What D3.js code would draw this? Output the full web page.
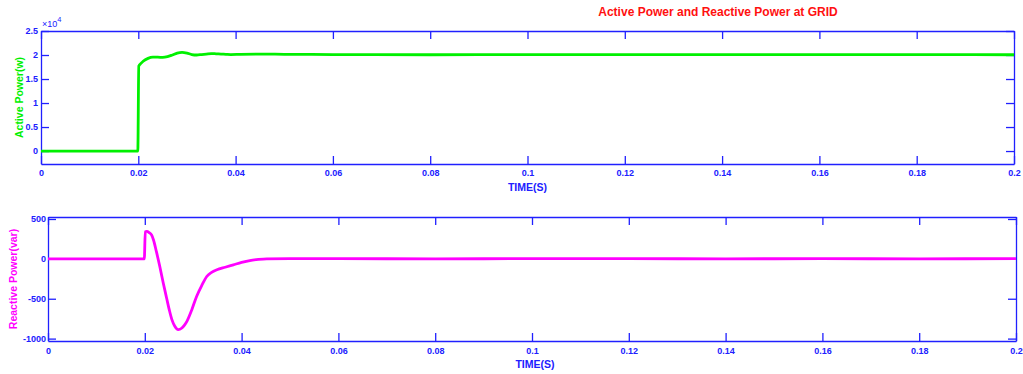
<!DOCTYPE html>
<html>
<head>
<meta charset="utf-8">
<script src="https://cdn.jsdelivr.net/npm/d3@7"></script>
<style>
body { margin: 0; background: #fff; }
svg { display: block; font-family: "Liberation Sans", Arial, sans-serif; }
.ax text { fill: #2020ff; font-size: 9px; font-weight: bold; }
.ax path, .ax line { stroke: #2020ff; stroke-width: 1.3; }
</style>
</head>
<body>
<svg id="chart" width="1023" height="374"></svg>
<script>
// time axis ticks (s)
var timeTicks = [0, 0.02, 0.04, 0.06, 0.08, 0.1, 0.12, 0.14, 0.16, 0.18, 0.2];

// Active power at grid (x10^4 W)
var pTime = [0, 0.0199, 0.0201, 0.0206, 0.021, 0.022, 0.023, 0.024, 0.025, 0.026, 0.027, 0.028, 0.029,
    0.030, 0.031, 0.032, 0.033, 0.034, 0.035, 0.036, 0.037, 0.038, 0.039, 0.041, 0.045, 0.05, 0.06,
    0.08, 0.1, 0.12, 0.14, 0.16, 0.18, 0.2];
var pValue = [0, 0, 1.77, 1.83, 1.87, 1.93, 1.955, 1.955, 1.95, 1.965, 2.0, 2.04, 2.055,
    2.04, 2.01, 2.0, 2.01, 2.02, 2.03, 2.025, 2.02, 2.015, 2.01, 2.015, 2.02, 2.015, 2.01,
    2.005, 2.01, 2.01, 2.01, 2.01, 2.01, 2.005];
var pTicks = [0, 0.5, 1, 1.5, 2, 2.5];

// Reactive power at grid (var)
var qTime = [0, 0.0199, 0.0201, 0.0204, 0.0209, 0.0214, 0.0218, 0.0224, 0.0231, 0.0238, 0.0245, 0.0251,
    0.0256, 0.0262, 0.0269, 0.0276, 0.0282, 0.0287, 0.0297, 0.0307, 0.0318, 0.0328, 0.0338, 0.0349,
    0.0366, 0.0383, 0.04, 0.0417, 0.0435, 0.0452, 0.05, 0.06, 0.08, 0.1, 0.12, 0.14, 0.16, 0.18, 0.2];
var qValue = [0, 0, 340, 345, 330, 300, 237, 90, -96, -300, -490, -650,
    -762, -845, -887, -870, -830, -783, -640, -471, -330, -221, -170, -137,
    -105, -75, -45, -21, -7, 0, 2, 2, 1, 2, 2, 1, 2, 1, 2];
var qTicks = [-1000, -500, 0, 500];

var svg = d3.select('#chart');
var lineFmt = function(d) { return d === 0 ? '0' : String(d); };

function panel(cfg) {
    var x = d3.scaleLinear().domain([0, 0.2]).range([cfg.left, cfg.right]);
    var y = d3.scaleLinear().domain(cfg.yDomain).range([cfg.bottom, cfg.top]);
    var g = svg.append('g');

    g.append('g').attr('class', 'ax').attr('transform', 'translate(0,' + cfg.bottom + ')')
        .call(d3.axisBottom(x).tickValues(timeTicks).tickSizeInner(-8).tickSizeOuter(0)
            .tickPadding(cfg.xPad).tickFormat(lineFmt));
    g.append('g').attr('class', 'ax').attr('transform', 'translate(0,' + cfg.top + ')')
        .call(d3.axisTop(x).tickValues(timeTicks).tickSizeInner(-8).tickSizeOuter(0).tickFormat(''));
    g.append('g').attr('class', 'ax').attr('transform', 'translate(' + cfg.left + ',0)')
        .call(d3.axisLeft(y).tickValues(cfg.yTicks).tickSizeInner(-8).tickSizeOuter(0)
            .tickPadding(cfg.yPad).tickFormat(lineFmt));
    g.append('g').attr('class', 'ax').attr('transform', 'translate(' + cfg.right + ',0)')
        .call(d3.axisRight(y).tickValues(cfg.yTicks).tickSizeInner(-8).tickSizeOuter(0).tickFormat(''));

    var pts = cfg.t.map(function(t, i) { return [t, cfg.v[i]]; });
    var line = d3.line()
        .x(function(d) { return x(d[0]); })
        .y(function(d) { return y(d[1]); })
        .curve(d3.curveMonotoneX);
    g.append('path').datum(pts).attr('d', line)
        .attr('fill', 'none').attr('stroke', cfg.color).attr('stroke-width', 2.8)
        .attr('stroke-linejoin', 'round');

    g.append('text').attr('x', (cfg.left + cfg.right) / 2 + cfg.tShift).attr('y', cfg.bottom + 26.5)
        .attr('text-anchor', 'middle').attr('fill', '#2020ff')
        .style('font-size', '10.5px').style('font-weight', 'bold').text('TIME(S)');
    g.append('text')
        .attr('transform', 'translate(' + cfg.ylabX + ',' + ((cfg.top + cfg.bottom) / 2) + ') rotate(-90)')
        .attr('text-anchor', 'middle').attr('fill', cfg.color)
        .style('font-size', '10.5px').style('font-weight', 'bold').text(cfg.ylabel);
    return { x: x, y: y };
}

panel({
    left: 41, right: 1014, top: 31, bottom: 164,
    yDomain: [-0.27, 2.5], yTicks: pTicks, xPad: 6, yPad: 3, tShift: 0,
    t: pTime, v: pValue, color: '#00f000',
    ylabel: 'Active Power(w)', ylabX: 22.5
});

panel({
    left: 48, right: 1016, top: 217, bottom: 341,
    yDomain: [-1030, 525], yTicks: qTicks, xPad: 6.5, yPad: 2, tShift: 3,
    t: qTime, v: qValue, color: '#ff00ff',
    ylabel: 'Reactive Power(var)', ylabX: 17
});

// exponent for the top panel
var ex = svg.append('text').attr('x', 42).attr('y', 27).attr('fill', '#2020ff').style('font-size', '9px');
ex.append('tspan').text('\u00d710');
ex.append('tspan').attr('dy', -5).style('font-size', '7.5px').text('4');

svg.append('text').attr('x', 718).attr('y', 16).attr('text-anchor', 'middle')
    .attr('fill', '#ff1010').style('font-size', '12px').style('font-weight', 'bold')
    .text('Active Power and Reactive Power at GRID');
</script>
</body>
</html>
